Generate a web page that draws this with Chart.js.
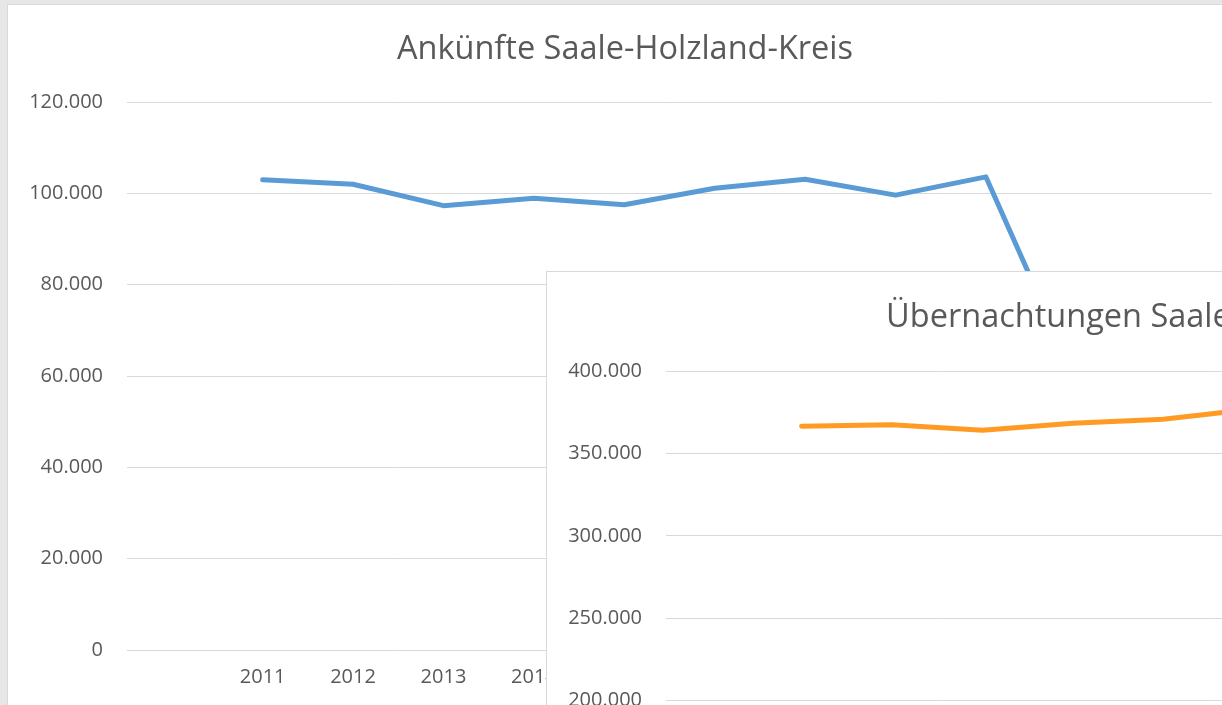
<!DOCTYPE html>
<html>
<head>
<meta charset="utf-8">
<script src="https://cdn.jsdelivr.net/npm/chart.js@4.4.1/dist/chart.umd.min.js"></script>
<style>
  html, body { margin: 0; padding: 0; }
  body { width: 1222px; height: 705px; overflow: hidden; background: #e7e7e7; position: relative; }
  .panel { position: absolute; background: #fff; border: 1px solid #d9d9d9; height: 740px; }
  #panel1 { left: 7px; top: 4px; width: 1234px; }
  #panel2 { left: 546px; top: 271px; width: 1252px; }
</style>
</head>
<body>
<div class="panel" id="panel1"><canvas id="arrivalsChart"></canvas></div>
<div class="panel" id="panel2"><canvas id="overnightsChart"></canvas></div>
<script>
const years = ['', '2011', '2012', '2013', '2014', '2015', '2016', '2017', '2018', '2019', '2020', '2021'];
const arrivals = [null, 103000, 102000, 97300, 98900, 97500, 101100, 103100, 99600, 103600, 59000, 68000];
const overnights = [null, 366500, 367400, 364000, 368300, 370700, 377000, 381000, 372000, 386000, 262000, 285000];
const arrivalTicks = [0, 20000, 40000, 60000, 80000, 100000, 120000];
const overnightTicks = [50000, 100000, 150000, 200000, 250000, 300000, 350000, 400000];

const fontFamily = '"Open Sans", "Noto Sans", sans-serif';
const textColor = '#595959';

function formatDe(v) {
  return String(v).replace(/\B(?=(\d{3})+(?!\d))/g, '.');
}

function makeChart(canvasId, title, values, ticks, color, titlePad, bottomPad, rightGap) {
  const ctx = document.getElementById(canvasId);
  return new Chart(ctx, {
    type: 'line',
    data: {
      labels: years,
      datasets: [{
        data: values,
        borderColor: color,
        borderWidth: 5,
        pointRadius: 0,
        tension: 0,
        borderCapStyle: 'round',
        borderJoinStyle: 'round',
      }],
    },
    options: {
      responsive: true,
      maintainAspectRatio: false,
      animation: false,
      layout: { padding: { left: 0, right: 0, top: 0, bottom: bottomPad } },
      plugins: {
        legend: { display: false },
        tooltip: { enabled: false },
        title: {
          display: true,
          text: title,
          color: textColor,
          font: { family: fontFamily, size: 32.5, weight: 'normal', lineHeight: 1.2 },
          padding: titlePad,
        },
      },
      scales: {
        x: {
          offset: true,
          grid: { display: false, drawTicks: false },
          border: { display: false },
          ticks: {
            color: textColor,
            font: { family: fontFamily, size: 20, lineHeight: 1.2 },
            padding: 15,
            maxRotation: 0,
            autoSkip: false,
          },
        },
        y: {
          min: ticks[0],
          max: ticks[ticks.length - 1],
          afterFit: (scale) => { scale.width = 119; },
          grid: { color: '#d9d9d9', lineWidth: 1, drawTicks: false },
          border: { display: false },
          ticks: {
            stepSize: ticks[1] - ticks[0],
            color: textColor,
            font: { family: fontFamily, size: 20 },
            padding: 24,
            callback: (v) => formatDe(v),
          },
        },
        // empty right-hand strip so the plot stops short of the panel edge
        yRight: {
          position: 'right',
          afterFit: (scale) => { scale.width = rightGap; },
          grid: { display: false, drawTicks: false },
          border: { display: false },
          ticks: { display: false },
        },
      },
    },
  });
}

makeChart('arrivalsChart', 'Ankünfte Saale-Holzland-Kreis', arrivals, arrivalTicks, '#5b9bd5', { top: 25, bottom: 33 }, 41, 30);
makeChart('overnightsChart', 'Übernachtungen Saale-Holzland-Kreis', overnights, overnightTicks, '#ff9b24', { top: 26, bottom: 34 }, 10, 48);
</script>
</body>
</html>
